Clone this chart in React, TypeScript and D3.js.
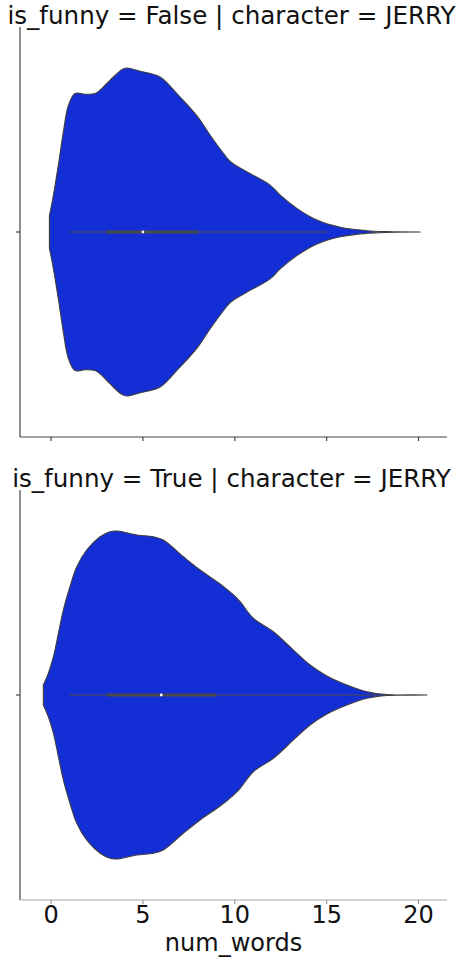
import * as d3 from 'd3';

// num_words grid and relative KDE width (peak = 1) for each facet
const falseWords = [-0.09, 0.13, 0.4, 0.67, 0.94, 1.31, 1.85, 2.4, 2.67, 3.21, 3.85, 4.12, 4.85, 5.93, 6.84, 7.93, 8.66, 9.38, 9.75, 10.29, 10.65, 11.92, 12.47, 13.38, 14.47, 15.74, 17.19, 18.28, 20.09];
const falseDensity = [0.097, 0.225, 0.41, 0.61, 0.77, 0.845, 0.84, 0.845, 0.865, 0.925, 0.99, 1.0, 0.98, 0.945, 0.845, 0.71, 0.59, 0.48, 0.43, 0.39, 0.367, 0.286, 0.225, 0.144, 0.073, 0.029, 0.008, 0.002, 0.0];

const trueWords = [-0.42, -0.15, 0.13, 0.4, 0.67, 1.03, 1.4, 1.94, 2.67, 3.21, 3.58, 4.67, 5.57, 6.11, 7.2, 8.11, 9.2, 9.93, 10.29, 11.01, 12.1, 13.19, 14.1, 15.01, 16.1, 17.19, 18.28, 20.46];
const trueDensity = [0.061, 0.132, 0.234, 0.376, 0.518, 0.66, 0.782, 0.884, 0.965, 0.996, 1.0, 0.976, 0.965, 0.945, 0.843, 0.762, 0.677, 0.61, 0.569, 0.468, 0.386, 0.274, 0.183, 0.116, 0.061, 0.02, 0.003, 0.0];

// inner box: whisker low, q1, median, q3, whisker high
const falseBox = [1, 3, 5, 8, 15];
const trueBox = [1, 3, 6, 9, 18];

const xTicks = [0, 5, 10, 15, 20];

const facets = [
  { title: 'is_funny = False | character = JERRY', words: falseWords, density: falseDensity, box: falseBox },
  { title: 'is_funny = True | character = JERRY', words: trueWords, density: trueDensity, box: trueBox },
];

const W = 460;
const H = 962;
const left = 20;
const right = 447;
const panelTops = [27, 490];
const panelH = 410;
const FONT = '"DejaVu Sans", sans-serif';
const FILL = '#142ed6';

const x = d3.scaleLinear().domain([-1.69, 21.55]).range([left, right]);

const Panel = ({ facet, top, last }: { facet: typeof facets[0]; top: number; last: boolean }) => {
  const bottom = top + panelH;
  const y = d3.scaleLinear().domain([-0.5, 0.5]).range([top, bottom]);
  const cy = y(0);
  const half = d3.scaleLinear().domain([0, 1]).range([0, y(0.4) - y(0)]);
  const pts = facet.words.map((w, i) => [w, facet.density[i]] as [number, number]);
  const area = d3
    .area<[number, number]>()
    .x((d) => x(d[0]))
    .y0((d) => cy - half(d[1]))
    .y1((d) => cy + half(d[1]))
    .curve(d3.curveCatmullRom.alpha(0.5));
  const [lo, q1, med, q3, hi] = facet.box;
  const axisColor = last ? '#a8a8a8' : '#444';

  return (
    <g>
      <text x={(left + right) / 2 - 2} y={top - 3} textAnchor="middle" fontSize={24.6} fontFamily={FONT} fill="#111">
        {facet.title}
      </text>
      <path d={area(pts) || ''} fill={FILL} stroke="#3d3d3d" strokeWidth={1.1} strokeLinejoin="round" />
      <line x1={x(lo)} x2={x(hi)} y1={cy} y2={cy} stroke="#4a4a4a" strokeWidth={1} />
      <line x1={x(q1)} x2={x(q3)} y1={cy} y2={cy} stroke="#4a4a4a" strokeWidth={3} />
      <circle cx={x(med)} cy={cy} r={1.4} fill="#fff" />
      {/* spines */}
      <line x1={left} x2={left} y1={top} y2={bottom} stroke="#444" strokeWidth={1.2} />
      <line x1={left} x2={right} y1={bottom} y2={bottom} stroke={axisColor} strokeWidth={1.2} />
      <line x1={left - 4} x2={left} y1={cy} y2={cy} stroke="#444" strokeWidth={1.2} />
      {xTicks.map((t) => (
        <g key={t}>
          <line x1={x(t)} x2={x(t)} y1={bottom} y2={bottom + 4} stroke={last ? '#999' : '#444'} strokeWidth={1.2} />
          {last && (
            <text x={x(t)} y={bottom + 23} textAnchor="middle" fontSize={24} fontFamily={FONT} fill="#111">
              {t}
            </text>
          )}
        </g>
      ))}
      {last && (
        <text x={(left + right) / 2} y={bottom + 51} textAnchor="middle" fontSize={24} fontFamily={FONT} fill="#111">
          num_words
        </text>
      )}
    </g>
  );
};

export default function App() {
  return (
    <svg width={W} height={H} style={{ position: 'absolute', left: 0, top: 0, background: '#fff' }}>
      <rect width={W} height={H} fill="#fff" />
      {facets.map((f, i) => (
        <Panel key={i} facet={f} top={panelTops[i]} last={i === facets.length - 1} />
      ))}
    </svg>
  );
}
